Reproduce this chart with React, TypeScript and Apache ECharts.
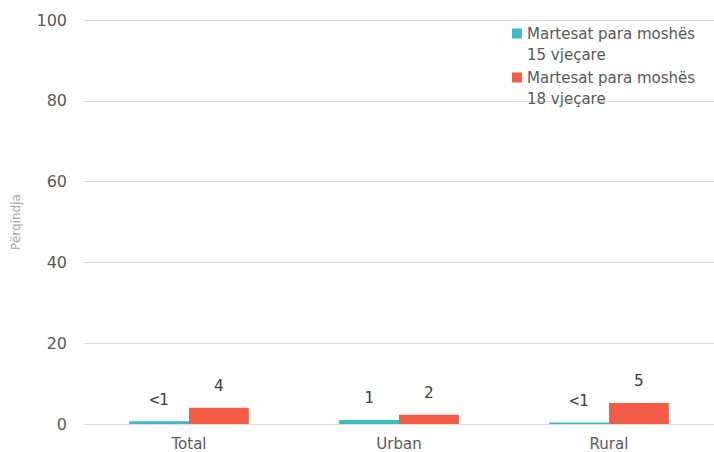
import React, { useEffect, useRef } from "react";
import * as echarts from "echarts";

const categories = ["Total", "Urban", "Rural"];
const seriesNames = ["Martesat para moshës\n15 vjeçare", "Martesat para moshës\n18 vjeçare"];
const values15 = [0.7, 1, 0.4];
const values18 = [4, 2.3, 5.2];
const labels15 = ["<1", "1", "<1"];
const labels18 = ["4", "2", "5"];
const yTicks = { min: 0, max: 100, interval: 20 };
const yAxisName = "Përqindja";

export default function App() {
  const ref = useRef<HTMLDivElement>(null);
  useEffect(() => {
    if (!ref.current) return;
    const chart = echarts.init(ref.current, undefined, { renderer: "svg" });
    const labelStyle = {
      show: true,
      position: "top" as const,
      distance: 14,
      fontFamily: "DejaVu Sans Mono",
      fontSize: 16,
      color: "#404040",
    };
    chart.setOption({
      animation: false,
      backgroundColor: "#ffffff",
      grid: { left: 84, right: 0, top: 20, bottom: 28 },
      legend: {
        show: true,
        orient: "vertical",
        left: 512,
        top: 2,
        padding: 0,
        itemWidth: 10,
        itemHeight: 10,
        itemGap: -19,
        icon: "rect",
        formatter: (name: string) => " \n" + name,
        textStyle: {
          fontFamily: "DejaVu Sans",
          fontSize: 15,
          color: "#595959",
          lineHeight: 21,
        },
      },
      xAxis: {
        type: "category",
        data: categories,
        axisLine: { show: true, lineStyle: { color: "#d9d9d9" } },
        axisTick: { show: false },
        axisLabel: { fontFamily: "DejaVu Sans", fontSize: 15, color: "#595959", margin: 12 },
      },
      yAxis: {
        type: "value",
        min: yTicks.min,
        max: yTicks.max,
        interval: yTicks.interval,
        name: yAxisName,
        nameLocation: "middle",
        nameGap: 62,
        nameTextStyle: { fontFamily: "DejaVu Sans", fontSize: 12, color: "#a6a6a6" },
        axisLine: { show: false },
        axisTick: { show: false },
        splitLine: { lineStyle: { color: "#d9d9d9" } },
        axisLabel: { fontFamily: "DejaVu Sans", fontSize: 16, color: "#595959", margin: 17 },
      },
      series: [
        {
          name: seriesNames[0],
          type: "bar",
          data: values15,
          itemStyle: { color: "#3cbac6" },
          barGap: "0%",
          barCategoryGap: "43%",
          label: { ...labelStyle, formatter: (p: any) => labels15[p.dataIndex] },
        },
        {
          name: seriesNames[1],
          type: "bar",
          data: values18,
          itemStyle: { color: "#f25c45" },
          barGap: "0%",
          barCategoryGap: "43%",
          label: { ...labelStyle, formatter: (p: any) => labels18[p.dataIndex] },
        },
      ],
    });
    return () => chart.dispose();
  }, []);
  return <div ref={ref} style={{ width: 714, height: 452, position: "absolute", left: 0, top: 0 }} />;
}
